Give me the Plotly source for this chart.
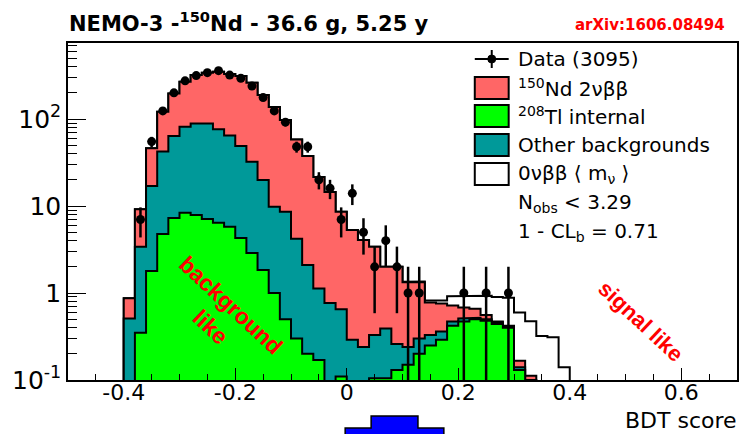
import plotly.graph_objects as go
import math

# ---------------- data ----------------
bin_width = 0.02
bin_left = [-0.40, -0.38, -0.36, -0.34, -0.32, -0.30, -0.28, -0.26, -0.24, -0.22,
            -0.20, -0.18, -0.16, -0.14, -0.12, -0.10, -0.08, -0.06, -0.04, -0.02,
            0.00, 0.02, 0.04, 0.06, 0.08, 0.10, 0.12, 0.14, 0.16, 0.18,
            0.20, 0.22, 0.24, 0.26, 0.28, 0.30, 0.32, 0.34, 0.36, 0.38]

data_counts = [0, 7, 55, 124, 200, 275, 316, 341, 360, 320,
               294, 239, 177, 124, 92, 48, 48, 20, 16, 7,
               14, 5, 2, 4, 2, 1, 1, 0, 0, 0,
               1, 0, 1, 0, 1, 0, 0, 0, 0, 0]

tl208_internal = [0, 0.35, 1.79, 4.77, 7.28, 8.37, 7.88, 7.09, 6.43, 5.78,
                  4.29, 2.88, 1.84, 1.0, 0.5, 0.3, 0.2, 0.17, 0, 0.11,
                  0, 0, 0.105, 0.105, 0.13, 0.15, 0.2, 0.25, 0.29, 0.42,
                  0.47, 0.5, 0.48, 0.44, 0.40, 0.13, 0.09, 0, 0, 0]

other_bkg = [0.51, 3.05, 15.2, 37.5, 56.5, 73.1, 80.9, 81.7, 69.8, 58.8,
             44.6, 29.4, 18.1, 8.8, 8.1, 3.9, 1.9, 0.96, 0.77, 0.54,
             0.29, 0.24, 0.225, 0.285, 0.13, 0.09, 0.10, 0.08, 0.07, 0.05,
             0.04, 0.02, 0.02, 0.02, 0.01, 0.01, 0.01, 0, 0, 0]

nd150_2nbb = [0.36, 5.76, 29.0, 78.7, 133, 186, 231, 252, 274, 264,
              263, 229, 169, 128, 88.9, 53.8, 35.5, 20.4, 13.7, 7.95,
              5.0, 3.83, 3.07, 1.61, 1.74, 1.09, 1.03, 0.45, 0.40, 0.25,
              0.17, 0.14, 0.06, 0.01, 0.01, 0.026, 0.012, 0, 0, 0]

signal_0nbb = [0, 0, 0, 0, 0, 0, 0, 0, 0, 0,
               0, 0, 0, 0, 0, 0, 0, 0, 0, 0,
               0, 0, 0, 0, 0, 0.02, 0.03, 0.04, 0.06, 0.20,
               0.24, 0.27, 0.37, 0.43, 0.46, 0.43, 0.36, 0.32, 0.31, 0.14]

x_ticks = [-0.4, -0.2, 0, 0.2, 0.4, 0.6]
x_tick_labels = ["-0.4", "-0.2", "0", "0.2", "0.4", "0.6"]
y_ticks = [0.1, 1, 10, 100]
y_tick_labels = ["10<sup>-1</sup>", "1", "10", "10<sup>2</sup>"]

# ---------------- styling / layout constants ----------------
W, H = 745, 434
L, R, T, B = 68, 739, 43, 380          # plot area in pixels
FONT = "DejaVu Sans, Liberation Sans, Arial, sans-serif"
FONT_N = "Liberation Sans, Arial, Helvetica, sans-serif"
C_RED = "#ff6666"
C_GREEN = "#00ff00"
C_TEAL = "#009999"
BASE = 1e-4


def px(x):
    return (x - L) / (R - L)


def py(y):
    return (B - y) / (B - T)


# cumulative stack (green bottom, teal, red, signal on top)
cum_green = list(tl208_internal)
cum_teal = [g + o for g, o in zip(cum_green, other_bkg)]
cum_red = [t + n for t, n in zip(cum_teal, nd150_2nbb)]
cum_sig = [r + s for r, s in zip(cum_red, signal_0nbb)]


def step_poly(vals):
    xs, ys = [bin_left[0]], [BASE]
    for lo, v in zip(bin_left, vals):
        yv = v if v > 0 else BASE
        xs += [lo, lo + bin_width]
        ys += [yv, yv]
    xs += [bin_left[-1] + bin_width, bin_left[0]]
    ys += [BASE, BASE]
    return xs, ys


fig = go.Figure()
for vals, col in [(cum_sig, "white"), (cum_red, C_RED), (cum_teal, C_TEAL), (cum_green, C_GREEN)]:
    xs, ys = step_poly(vals)
    fig.add_trace(go.Scatter(x=xs, y=ys, mode="lines", fill="toself", fillcolor=col,
                             line=dict(color="black", width=2), hoverinfo="skip",
                             showlegend=False))

# data points
dx, dy, dplus, dminus = [], [], [], []
for lo, n in zip(bin_left, data_counts):
    if n > 0:
        dx.append(lo + bin_width / 2)
        dy.append(n)
        e = math.sqrt(n)
        dplus.append(e)
        dminus.append(min(e, n * 0.999))
fig.add_trace(go.Scatter(
    x=dx, y=dy, mode="markers",
    marker=dict(color="black", size=9, symbol="circle"),
    error_y=dict(type="data", array=dplus, arrayminus=dminus, color="black",
                 thickness=2.5, width=0),
    error_x=dict(type="constant", value=0.006, color="black", thickness=2.5, width=0),
    showlegend=False, hoverinfo="skip"))

minor_y = [m * 10 ** k for k in (-1, 0, 1, 2) for m in range(2, 10)]

fig.update_layout(
    width=W, height=H,
    margin=dict(l=L, r=W - R, t=T, b=H - B, pad=0),
    paper_bgcolor="white", plot_bgcolor="white",
    font=dict(family=FONT, color="black"),
    xaxis=dict(range=[-0.5, 0.7], tickmode="array", tickvals=x_ticks, ticktext=x_tick_labels,
               ticks="inside", ticklen=12, tickwidth=1, tickcolor="black",
               ticklabelstandoff=-8,
               minor=dict(dtick=0.05, tick0=0, ticks="inside", ticklen=6, tickcolor="black"),
               showline=True, linecolor="black", linewidth=1.5, mirror=True,
               showgrid=False, zeroline=False, tickfont=dict(size=22, family=FONT)),
    yaxis=dict(type="log", range=[-1, 2.874], tickmode="array", tickvals=y_ticks,
               ticktext=y_tick_labels, ticks="inside", ticklen=18, tickwidth=1,
               tickcolor="black",
               minor=dict(tickmode="array", tickvals=minor_y, ticks="inside", ticklen=9,
                          tickcolor="black"),
               showline=True, linecolor="black", linewidth=1.5, mirror=True,
               showgrid=False, zeroline=False, tickfont=dict(size=25, family=FONT)),
)

ann = []
# title + arXiv
ann.append(dict(text="<b>NEMO-3 -<sup>150</sup>Nd - 36.6 g, 5.25 y</b>", x=px(67), y=py(22),
                xanchor="left", yanchor="middle", font=dict(size=21, family=FONT)))
ann.append(dict(text="<b>arXiv:1606.08494</b>", x=px(729), y=py(25), xanchor="right",
                yanchor="middle", font=dict(size=15, color="#ff0000", family=FONT)))
# axis title
ann.append(dict(text="BDT score", x=px(741), y=py(420), xanchor="right", yanchor="middle",
                font=dict(size=22, family=FONT)))
# rotated labels
ann.append(dict(text="<b>background<br>like</b>", x=px(221), y=py(316), xanchor="center",
                yanchor="middle", textangle=43, font=dict(size=23, color="#ff0000", family=FONT_N)))
ann.append(dict(text="<b>signal like</b>", x=px(643), y=py(321), xanchor="center",
                yanchor="middle", textangle=43, font=dict(size=22, color="#ff0000", family=FONT_N)))

# legend
rows = [59, 88, 116, 145, 174, 203, 232]
labels = ["Data (3095)", "<sup>150</sup>Nd 2νββ", "<sup>208</sup>Tl internal",
          "Other backgrounds", "0νββ ⟨ m<sub>ν</sub> ⟩", "N<sub>obs</sub> &lt; 3.29",
          "1 - CL<sub>b</sub> = 0.71"]
for yy, lab in zip(rows, labels):
    ann.append(dict(text=lab, x=px(517), y=py(yy), xanchor="left", yanchor="middle",
                    font=dict(size=20, family=FONT)))
for a in ann:
    a.update(xref="paper", yref="paper", showarrow=False)
fig.update_layout(annotations=ann)

shapes = []
# legend data symbol
shapes.append(dict(type="line", x0=px(476), x1=px(510), y0=py(rows[0]), y1=py(rows[0]),
                   line=dict(color="black", width=2)))
shapes.append(dict(type="line", x0=px(493), x1=px(493), y0=py(rows[0] - 9), y1=py(rows[0] + 9),
                   line=dict(color="black", width=2)))
shapes.append(dict(type="circle", x0=px(489), x1=px(497), y0=py(rows[0] - 4), y1=py(rows[0] + 4),
                   fillcolor="black", line=dict(color="black", width=1)))
for yy, col in zip(rows[1:5], [C_RED, C_GREEN, C_TEAL, "white"]):
    shapes.append(dict(type="rect", x0=px(476), x1=px(510), y0=py(yy - 11), y1=py(yy + 11),
                       fillcolor=col, line=dict(color="black", width=2)))
# blue arrow at bottom
ax_pts = [(372, 416), (419, 416), (419, 428), (445, 428), (445, 440), (346, 440), (346, 428), (372, 428)]
path = "M " + " L ".join(f"{px(a):.4f},{py(b):.4f}" for a, b in ax_pts) + " Z"
shapes.append(dict(type="path", path=path, fillcolor="#0000ff", line=dict(color="black", width=1.5)))
for s in shapes:
    s.update(xref="paper", yref="paper", layer="above")
fig.update_layout(shapes=shapes)

fig.write_html("out.html")
